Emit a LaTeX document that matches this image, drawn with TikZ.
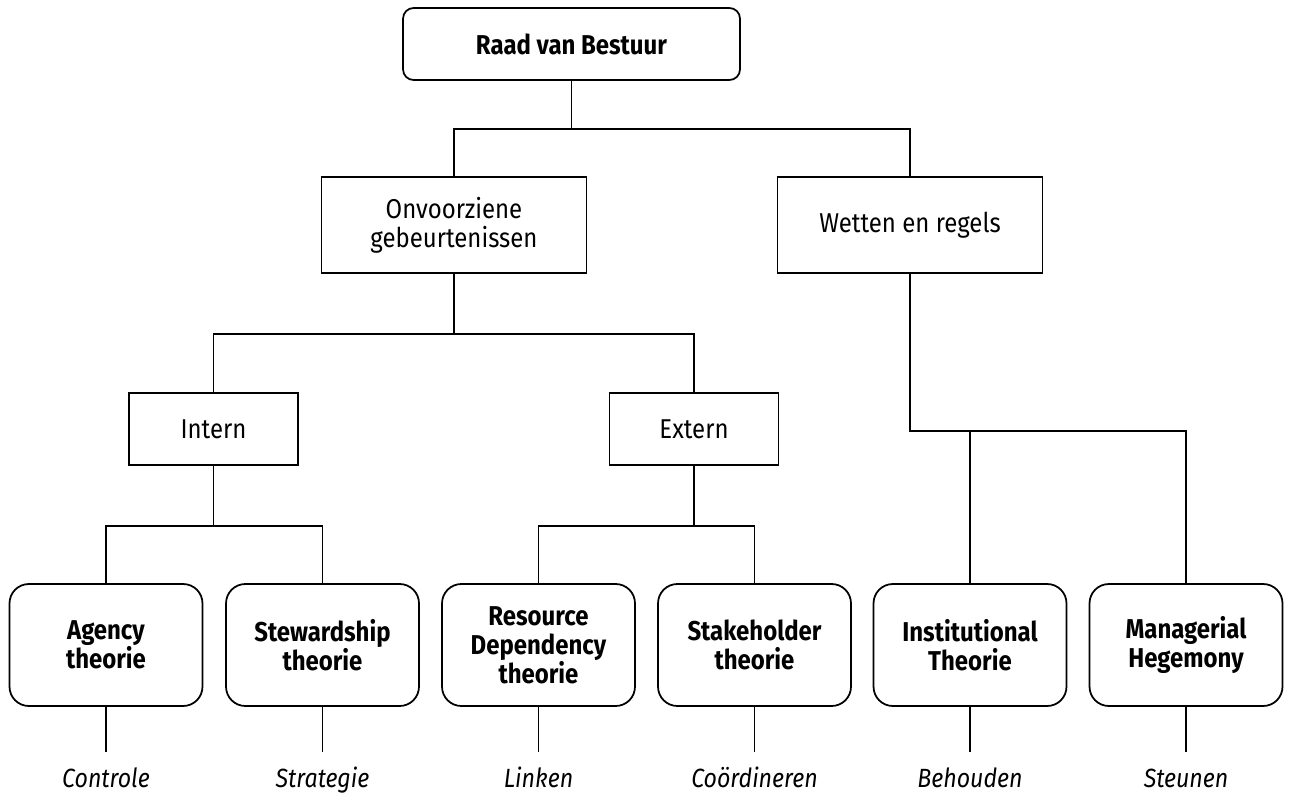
\documentclass[tikz,border=0pt]{standalone}
\usepackage{fontspec}
\setmainfont[FakeStretch=0.88]{Fira Sans}
\usetikzlibrary{positioning}

\begin{document}
\begin{tikzpicture}[
    x=0.02cm, y=-0.02cm,
    every node/.style={font=\fontsize{15.5}{16.5}\selectfont},
    plainbox/.style={
        rectangle,
        draw=black,
        line width=1pt,
        align=center,
        inner sep=2pt
    },
    topbox/.style={
        plainbox,
        rounded corners=6pt,
        font=\fontsize{15.5}{16.5}\selectfont\bfseries,
        minimum width=6.74cm,
        minimum height=1.44cm
    },
    midbox/.style={
        plainbox,
        minimum width=5.3cm,
        minimum height=1.92cm
    },
    smallbox/.style={
        plainbox,
        minimum width=3.38cm,
        minimum height=1.44cm
    },
    theorybox/.style={
        plainbox,
        rounded corners=11pt,
        font=\fontsize{15.5}{16.5}\selectfont\bfseries,
        minimum width=3.86cm,
        minimum height=2.44cm
    },
    role/.style={
        anchor=north,
        font=\fontsize{15}{16.5}\selectfont\itshape,
        inner xsep=0pt,
        inner ysep=8.8pt,
        text height=11pt,
        text depth=3pt
    },
    conn/.style={
        draw,
        line width=0.9pt
    },
    tick/.style={
        draw,
        line width=0.7pt
    }
]
    \useasboundingbox (0,0) rectangle (1290,794);

    % --- Boxes ---
    \node [topbox] (raad) at (571.5,44) {Raad van Bestuur};

    \node [midbox] (onvoorzien) at (454,225) {Onvoorziene\\gebeurtenissen};
    \node [midbox] (wetten) at (910,225) {Wetten en regels};

    \node [smallbox] (intern) at (213.5,429) {Intern};
    \node [smallbox] (extern) at (694,429) {Extern};

    \node [theorybox] (agency) at (106,645) {Agency\\theorie};
    \node [theorybox] (steward) at (322.5,645) {Stewardship\\theorie};
    \node [theorybox] (resource) at (538.5,645) {Resource\\Dependency\\theorie};
    \node [theorybox] (stake) at (754.5,645) {Stakeholder\\theorie};
    \node [theorybox] (institut) at (970,645) {Institutional\\Theorie};
    \node [theorybox] (manager) at (1186,645) {Managerial\\Hegemony};

    % --- Roles ---
    \node [role] (controle) at (106,752) {Controle};
    \node [role] (strategie) at (322.5,752) {Strategie};
    \node [role] (linken) at (538.5,752) {Linken};
    \node [role] (coord) at (754.5,752) {Coördineren};
    \node [role] (behouden) at (970,752) {Behouden};
    \node [role] (steunen) at (1186,752) {Steunen};

    % --- Tree lines ---
    \draw [conn] (raad.south) -- ++(0,48) coordinate (split1);
    \draw [conn] (onvoorzien.north) |- (split1) -| (wetten.north);

    \draw [conn] (onvoorzien.south) -- ++(0,60) coordinate (split2);
    \draw [conn] (intern.north) |- (split2) -| (extern.north);

    \draw [conn] (wetten.south) -- ++(0,157) coordinate (split3) -| (manager.north);
    \draw [conn] (institut.north) -- (institut.north |- split3);

    \draw [conn] (intern.south) -- ++(0,60) coordinate (split4);
    \draw [conn] (agency.north) |- (split4) -| (steward.north);

    \draw [conn] (extern.south) -- ++(0,60) coordinate (split5);
    \draw [conn] (resource.north) |- (split5) -| (stake.north);

    % --- Role lines ---
    \path [tick] (agency) -- (controle);
    \path [tick] (steward) -- (strategie);
    \path [tick] (resource) -- (linken);
    \path [tick] (stake) -- (coord);
    \path [tick] (institut) -- (behouden);
    \path [tick] (manager) -- (steunen);

\end{tikzpicture}
\end{document}
